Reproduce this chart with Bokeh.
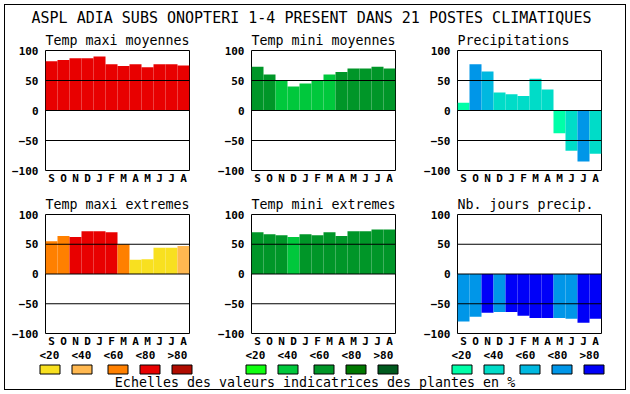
from bokeh.plotting import figure
from bokeh.models import Range1d, FixedTicker, Span, ColumnDataSource
from bokeh.layouts import row, column
from bokeh.embed import file_html
from bokeh.resources import INLINE
from bokeh.core.properties import value

# ---------------- data ----------------
main_title = "ASPL ADIA SUBS ONOPTERI 1-4 PRESENT DANS  21 POSTES CLIMATIQUES"
footer = "Echelles des valeurs indicatrices des plantes en %"
months = ["S", "O", "N", "D", "J", "F", "M", "A", "M", "J", "J", "A"]
class_labels = ["<20", "<40", "<60", "<80", ">80"]

reds = ["#F8E020", "#FFB850", "#FF8000", "#E80000", "#B00C00"]
greens = ["#10FF10", "#00C83C", "#009628", "#007800", "#005A1E"]
blues = ["#00FFA8", "#00DCC8", "#00B8E0", "#0096E8", "#0000F8"]

temp_maxi_moy = [82, 84, 87, 87, 90, 77, 74, 77, 72, 77, 77, 75]
temp_maxi_moy_cls = [3, 3, 3, 3, 3, 3, 3, 3, 3, 3, 3, 3]

temp_mini_moy = [73, 60, 50, 40, 45, 50, 60, 64, 70, 70, 73, 70]
temp_mini_moy_cls = [2, 2, 1, 1, 1, 1, 1, 2, 2, 2, 2, 2]

precip = [13, 77, 65, 30, 27, 24, 53, 35, -38, -67, -85, -72]
precip_cls = [0, 3, 2, 1, 1, 1, 1, 1, 0, 1, 3, 1]

temp_maxi_ext = [55, 64, 62, 72, 72, 70, 50, 24, 25, 44, 44, 47]
temp_maxi_ext_cls = [2, 2, 3, 3, 3, 3, 2, 0, 0, 0, 0, 1]

temp_mini_ext = [70, 67, 65, 62, 67, 65, 70, 64, 72, 72, 75, 75]
temp_mini_ext_cls = [2, 2, 2, 1, 2, 2, 2, 2, 2, 2, 2, 2]

nb_jours = [-80, -72, -65, -64, -64, -70, -74, -74, -74, -75, -82, -75]
nb_jours_cls = [3, 3, 4, 3, 4, 4, 4, 4, 3, 3, 4, 4]

y_ticks = [-100, -50, 0, 50, 100]
ref_lines = [-50, 0, 50]

# ---------------- styling / layout ----------------
MONO = "DejaVu Sans Mono"
COL_W = [205, 206, 209]
COL_L = [40, 41, 41]
COL_R = [21, 21, 24]
PANEL_LEFT = [45, 251, 457]   # page x of each panel frame


def panel(title, vals, cls, pal, k, height, top, bottom):
    p = figure(width=COL_W[k], height=height,
               x_range=Range1d(-0.5, 11.5), y_range=Range1d(-100, 100),
               output_backend="svg", toolbar_location=None,
               min_border_left=COL_L[k], min_border_right=COL_R[k],
               min_border_top=top, min_border_bottom=bottom)
    src = ColumnDataSource(dict(x=list(range(len(vals))), top=vals,
                                color=[pal[c] for c in cls]))
    p.vbar(x="x", top="top", bottom=0, width=1, fill_color="color",
           line_color=None, source=src)
    for v in ref_lines:
        p.add_layout(Span(location=v, dimension="width",
                          line_color="black", line_width=1))
    p.xgrid.visible = False
    p.ygrid.visible = False
    p.outline_line_color = "black"
    p.outline_line_width = 1
    p.outline_line_alpha = 1
    p.background_fill_color = "white"
    p.border_fill_color = "white"

    ya = p.yaxis[0]
    ya.ticker = FixedTicker(ticks=y_ticks)
    xa = p.xaxis[0]
    xa.ticker = FixedTicker(ticks=list(range(len(months))))
    xa.major_label_overrides = {i: m for i, m in enumerate(months)}
    for ax in (ya, xa):
        ax.major_tick_out = 0
        ax.major_tick_in = 0
        ax.minor_tick_out = 0
        ax.minor_tick_in = 0
        ax.axis_line_color = None
        ax.major_label_text_font = MONO
        ax.major_label_text_font_style = "bold"
        ax.major_label_text_font_size = "11px"
        ax.major_label_text_color = "black"
    ya.major_label_standoff = 7
    xa.major_label_standoff = 1

    p.title.text = title
    p.title.align = "left"
    p.title.text_font = MONO
    p.title.text_font_style = "normal"
    p.title.text_font_size = "13.3px"
    p.title.text_color = "black"
    p.title.standoff = 6
    return p


def blank(height, y0, y1):
    f = figure(width=620, height=height, x_range=Range1d(5, 625), y_range=Range1d(y1, y0),
               x_axis_type=None, y_axis_type=None, output_backend="svg",
               toolbar_location=None, title=None, min_border=0)
    f.outline_line_color = None
    f.border_fill_color = "white"
    f.background_fill_color = "white"
    return f


# header
hdr = blank(22, 5, 27)
hdr.text(x=[315.5], y=[17.5], text=[main_title], text_font=value(MONO),
         text_font_size="15px", text_align="center", text_baseline="middle",
         text_color="black")

top_row = row(
    panel("Temp maxi moyennes", temp_maxi_moy, temp_maxi_moy_cls, reds, 0, 161, 23, 18),
    panel("Temp mini moyennes", temp_mini_moy, temp_mini_moy_cls, greens, 1, 161, 23, 18),
    panel("Precipitations", precip, precip_cls, blues, 2, 161, 23, 18),
    spacing=0)
bot_row = row(
    panel("Temp maxi extremes", temp_maxi_ext, temp_maxi_ext_cls, reds, 0, 162, 26, 16),
    panel("Temp mini extremes", temp_mini_ext, temp_mini_ext_cls, greens, 1, 162, 26, 16),
    panel("Nb. jours precip.", nb_jours, nb_jours_cls, blues, 2, 162, 26, 16),
    spacing=0)

# legend / footer
lg = blank(39, 350, 389)
label_off = [-6, 26, 58, 90, 122]
box_off = [-5.5, 26.5, 62.5, 94.5, 126.5]
for pl, pal in zip(PANEL_LEFT, [reds, greens, blues]):
    lg.text(x=[pl + o for o in label_off], y=[354.5] * len(class_labels), text=class_labels,
            text_font=value(MONO), text_font_style="bold", text_font_size="11px",
            text_align="left", text_baseline="middle", text_color="black")
    lg.quad(left=[pl + o for o in box_off], right=[pl + o + 20 for o in box_off],
            top=[364.5] * len(pal), bottom=[373.5] * len(pal),
            fill_color=pal, line_color="black", line_width=1)
lg.text(x=[314.5], y=[381.5], text=[footer], text_font=value(MONO),
        text_font_size="13.3px", text_align="center", text_baseline="middle",
        text_color="black")

layout = column(hdr, top_row, bot_row, lg, spacing=0,
                styles={"margin": "5px", "outline": "1px solid black"})

open("out.html", "w").write(file_html(layout, INLINE))
